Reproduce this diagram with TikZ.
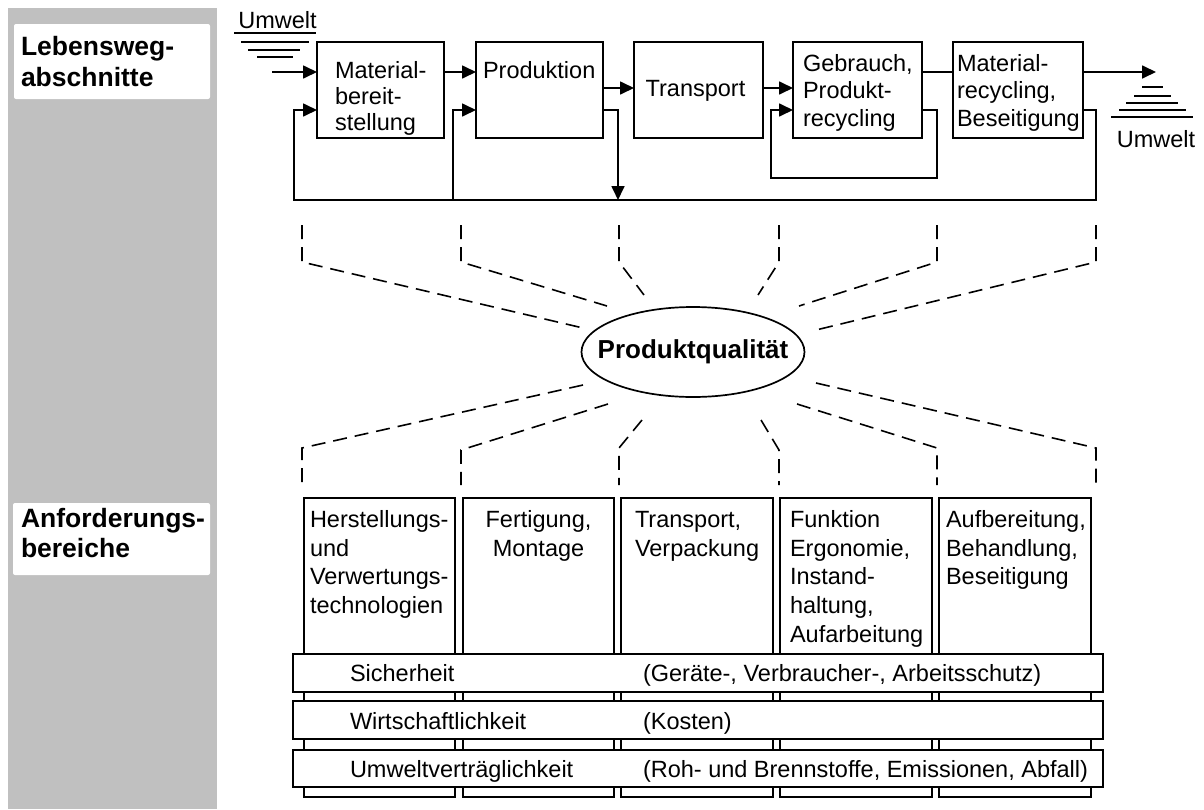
\documentclass[tikz,border=0pt]{standalone}
\usepackage{fontspec}
\setmainfont{Liberation Sans}
\usetikzlibrary{arrows.meta,shapes.geometric}
\definecolor{band}{RGB}{192,192,192}
\newcommand\cellstack[2][l]{\begin{tabular}[t]{@{}#1@{}}#2\end{tabular}}

\begin{document}
\begin{tikzpicture}[x=1pt,y=-1pt,
  every node/.style={inner sep=0pt, outer sep=0pt},
  stage/.style={draw, line width=1.7pt, fill=white, minimum height=96pt},
  area/.style={draw, line width=1.7pt, fill=white, minimum height=299pt},
  aspect/.style={draw, line width=1.7pt, fill=white, minimum width=810pt},
  flow/.style={line width=1.7pt, -{Triangle[length=14pt,width=13pt]}},
  link/.style={line width=1.7pt},
  ray/.style={line width=1.6pt, dash pattern=on 14pt off 8pt},
  lbl/.style={fill=white, rounded corners=2pt},
  headtxt/.style={anchor=base west, font=\bfseries\fontsize{26.5}{31}\selectfont},
  toptxt/.style={anchor=base west, font=\fontsize{23.5}{27}\selectfont},
  coltxt/.style={anchor=base west, font=\fontsize{23.5}{28.7}\selectfont},
  rowtxt/.style={anchor=base west, font=\fontsize{23.5}{27}\selectfont}
]
\useasboundingbox (0,0) rectangle (1204,809);

% side band with the two headings
\fill[band] (8,8) rectangle (217,809);
\node[lbl, minimum width=196pt, minimum height=75pt] (h1) at (112,61.5) {};
\node[headtxt] (h1t) at (21,55) {\cellstack{Lebensweg-\\abschnitte}};
\node[lbl, minimum width=197pt, minimum height=72pt] (h2) at (111.5,539) {};
\node[headtxt, font=\bfseries\fontsize{26.5}{30}\selectfont] (h2t) at (21,527) {\cellstack{Anforderungs-\\bereiche}};

% life-cycle stages
\node[stage, minimum width=127pt] (mb) at (380.5,90) {};
\node[stage, minimum width=127pt] (pr) at (539.5,90) {};
\node[stage, minimum width=129pt] (tr) at (698.5,90) {};
\node[stage, minimum width=129pt] (gb) at (857.5,90) {};
\node[stage, minimum width=130pt] (mr) at (1018,90) {};
\node[toptxt, font=\fontsize{23.5}{26}\selectfont] (mbt) at (335,78) {\cellstack{Material-\\bereit-\\stellung}};
\node[toptxt] (prt) at (483,78) {Produktion};
\node[toptxt, anchor=base] (trt) at (695.5,96) {Transport};
\node[toptxt, font=\fontsize{23.5}{27.5}\selectfont] (gbt) at (803,71) {\cellstack{Gebrauch,\\Produkt-\\recycling}};
\node[toptxt, font=\fontsize{23.5}{27.5}\selectfont] (mrt) at (957,71) {\cellstack{Material-\\recycling,\\Beseitigung}};

% environment: source and sink
\node[toptxt, anchor=base] (uw1) at (277.5,28.5) {Umwelt};
\draw[link] (234,33) -- (316,33) (241,42) -- (309,42) (248,50) -- (300,50) (257,57) -- (293,57);
\coordinate (src) at (272,72);
\node[toptxt, anchor=base] (uw2) at (1156,147) {Umwelt};
\coordinate (snk) at (1156,72);
\draw[link] (1142,87) -- (1163,87) (1134,96) -- (1171,96) (1126,103) -- (1178,103)
  (1119,110) -- (1186,110) (1111,117) -- (1193,117);

% levels of the flows
\coordinate (yA) at (0,72);
\coordinate (yB) at (0,88);
\coordinate (yC) at (0,110);
\coordinate (busL) at (294,200);
\coordinate (busJ) at (453,200);
\coordinate (busT) at (618,200);
\coordinate (busR) at (1096,200);
\coordinate (lpR) at (937,178);
\coordinate (lpL) at (771,178);

% forward flows
\draw[flow] (src) -- (mb.west |- yA);
\draw[flow] (mb.east |- yA) -- (pr.west |- yA);
\draw[flow] (pr.east |- yB) -- (tr.west |- yB);
\draw[flow] (tr.east |- yB) -- (gb.west |- yB);
\draw[link] (gb.east |- yA) -- (mr.west |- yA);
\draw[flow] (mr.east |- yA) -- (snk);

% return flows
\draw[flow] (mr.east |- yC) -| (busR) -- (busL) |- (mb.west |- yC);
\draw[flow] (busJ) |- (pr.west |- yC);
\draw[flow] (pr.east |- yC) -| (busT);
\draw[flow] (gb.east |- yC) -| (lpR) -- (lpL) |- (gb.west |- yC);

% product quality
\node[draw, ellipse, line width=1.7pt, minimum width=223pt, minimum height=90pt] (pq) at (693,352) {};
\node[font=\bfseries\fontsize{26}{30}\selectfont] (pqt) at (pq.center) {Produktqualität};

% rays towards the stages
\coordinate (t1) at (302,225); \coordinate (k1) at (302,262); \coordinate (e1) at (583,328);
\coordinate (t2) at (461,225); \coordinate (k2) at (461,262); \coordinate (e2) at (607,306);
\coordinate (t3) at (619,225); \coordinate (k3) at (619,262); \coordinate (e3) at (644,295);
\coordinate (t4) at (779,225); \coordinate (k4) at (779,262); \coordinate (e4) at (758,295);
\coordinate (t5) at (937,225); \coordinate (k5) at (937,262); \coordinate (e5) at (799,306);
\coordinate (t6) at (1096,225); \coordinate (k6) at (1096,262); \coordinate (e6) at (816,330);
\foreach \i in {1,...,6} \draw[ray] (t\i) -- (k\i) -- (e\i);

% rays towards the requirement areas
\coordinate (b1) at (302,485); \coordinate (m1) at (302,448); \coordinate (f1) at (583,385);
\coordinate (b2) at (461,485); \coordinate (m2) at (461,450); \coordinate (f2) at (608,404);
\coordinate (b3) at (619,485); \coordinate (m3) at (619,448); \coordinate (f3) at (642,420);
\coordinate (b4) at (779,485); \coordinate (m4) at (779,450); \coordinate (f4) at (761,420);
\coordinate (b5) at (937,485); \coordinate (m5) at (937,448); \coordinate (f5) at (797,404);
\coordinate (b6) at (1096,485); \coordinate (m6) at (1096,448); \coordinate (f6) at (816,383);
\foreach \i in {1,...,6} \draw[ray] (f\i) -- (m\i) -- (b\i);

% requirement areas
\node[area, minimum width=151pt] (c1) at (379.5,647.5) {};
\node[area, minimum width=151pt] (c2) at (538.5,647.5) {};
\node[area, minimum width=152pt] (c3) at (697,647.5) {};
\node[area, minimum width=152pt] (c4) at (856,647.5) {};
\node[area, minimum width=152pt] (c5) at (1015,647.5) {};
\node[coltxt] (c1t) at (310,527.5) {\cellstack{Herstellungs-\\und\\Verwertungs-\\technologien}};
\node[coltxt, anchor=base] (c2t) at (538.5,527.5) {\cellstack[c]{Fertigung,\\Montage}};
\node[coltxt] (c3t) at (635,527.5) {\cellstack{Transport,\\Verpackung}};
\node[coltxt] (c4t) at (790,527.5) {\cellstack{Funktion\\Ergonomie,\\Instand-\\haltung,\\Aufarbeitung}};
\node[coltxt] (c5t) at (946,527.5) {\cellstack{Aufbereitung,\\Behandlung,\\Beseitigung}};

% cross-cutting aspects
\node[aspect, minimum height=38pt] (r1) at (698,673) {};
\node[aspect, minimum height=38pt] (r2) at (698,720) {};
\node[aspect, minimum height=37pt] (r3) at (698,768.5) {};
\node[rowtxt] (r1a) at (350,681.5) {Sicherheit};
\node[rowtxt] (r1b) at (643,681.5) {(Geräte-, Verbraucher-, Arbeitsschutz)};
\node[rowtxt] (r2a) at (350,729.5) {Wirtschaftlichkeit};
\node[rowtxt] (r2b) at (643,729.5) {(Kosten)};
\node[rowtxt] (r3a) at (350,777.5) {Umweltverträglichkeit};
\node[rowtxt] (r3b) at (643,777.5) {(Roh- und Brennstoffe, Emissionen, Abfall)};
\end{tikzpicture}
\end{document}
